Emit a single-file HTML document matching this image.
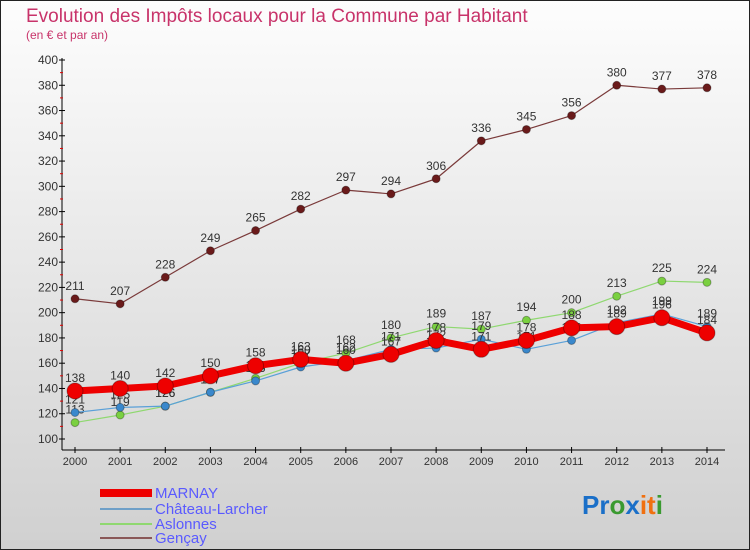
<!DOCTYPE html>
<html><head><meta charset="utf-8"><style>
body{margin:0}
#c{width:750px;height:550px;position:relative;overflow:hidden;box-sizing:border-box;border:1px solid #222;background:linear-gradient(#fdfdfd,#d0d0d0);font-family:"Liberation Sans",sans-serif}
</style></head><body>
<div id="c">
<svg id="s" width="750" height="550" style="position:absolute;left:-1px;top:-1px" font-family="Liberation Sans, sans-serif">
<text x="26" y="22" font-size="19" fill="#c8336a">Evolution des Impôts locaux pour la Commune par Habitant</text>
<text x="26" y="39" font-size="12" fill="#c8336a">(en € et par an)</text>
<g id="ax"></g><g id="plot"></g>
<g>
<rect x="100" y="489" width="52" height="8" fill="#ee0000"/>
<line x1="100" y1="509" x2="152" y2="509" stroke="#6fa0c8" stroke-width="2"/>
<line x1="100" y1="524" x2="152" y2="524" stroke="#8fd870" stroke-width="2"/>
<line x1="100" y1="538" x2="152" y2="538" stroke="#8a5858" stroke-width="2"/>
<g font-size="15" fill="#5a5aff">
<text x="155" y="498">MARNAY</text>
<text x="155" y="514">Château-Larcher</text>
<text x="155" y="529">Aslonnes</text>
<text x="155" y="543">Gençay</text>
</g></g>
<g font-size="26" font-weight="bold">
<text x="582" y="514"><tspan fill="#1a6fc8">Pr</tspan><tspan fill="#3a9a30">o</tspan><tspan fill="#1a6fc8">x</tspan><tspan fill="#f07010">it</tspan><tspan fill="#3a9a30">i</tspan></text>
</g>
</svg>
</div>
<script>
const years=[2000,2001,2002,2003,2004,2005,2006,2007,2008,2009,2010,2011,2012,2013,2014];
const marnay=[138,140,142,150,158,163,160,167,178,171,178,188,189,196,184];
const chateau=[121,125,126,137,146,157,162,171,172,179,171,178,192,199,189];
const aslonnes=[113,119,126,137,148,160,168,180,189,187,194,200,213,225,224];
const gencay=[211,207,228,249,265,282,297,294,306,336,345,356,380,377,378];
const yTicks=[100,120,140,160,180,200,220,240,260,280,300,320,340,360,380,400];
const NS="http://www.w3.org/2000/svg";
const X=i=>75+i*(707-75)/14;
const Y=v=>439-(v-100)*(439-60)/300;
function mk(t,a,p){const e=document.createElementNS(NS,t);for(const k in a)e.setAttribute(k,a[k]);p.appendChild(e);return e;}
const ax=document.getElementById('ax'),plot=document.getElementById('plot');
mk('line',{x1:62,y1:58,x2:62,y2:450,stroke:'#000'},ax);
mk('line',{x1:62,y1:450,x2:725,y2:450,stroke:'#000'},ax);
yTicks.forEach(v=>{
 mk('line',{x1:59,y1:Y(v),x2:65,y2:Y(v),stroke:'#000'},ax);
 if(v<400) mk('line',{x1:60,y1:Y(v+10),x2:63,y2:Y(v+10),stroke:'#e00000'},ax);
 const t=mk('text',{x:58,y:Y(v)+4,'font-size':12,fill:'#333','text-anchor':'end'},ax);
 
 
 t.textContent=v;
});
years.forEach((yr,i)=>{
 mk('line',{x1:X(i),y1:447,x2:X(i),y2:453,stroke:'#000'},ax);
 const t=mk('text',{x:X(i),y:465,'font-size':11,fill:'#333','text-anchor':'middle'},ax);
 
 
 t.textContent=yr;
});
function series(data,name,color,w,r,fill){
 const g=mk('g',{},plot);
 
 
 mk('polyline',{points:data.map((v,i)=>X(i)+','+Y(v)).join(' '),fill:'none',stroke:color,'stroke-width':w,'stroke-linejoin':'round'},g);
 data.forEach((v,i)=>{
  const c=mk('circle',{cx:X(i),cy:Y(v),r:r,fill:fill,stroke:'rgba(0,0,0,0.3)','stroke-width':1},g);
  
  
  const t=mk('text',{x:X(i),y:Y(v)-9,'font-size':12,fill:'#333','text-anchor':'middle'},g);
  
  
  t.textContent=v;
 });
}
series(gencay,'gencay','#7a3a3a',1.2,4,'#6a1a1a');
series(aslonnes,'aslonnes','#8fd870',1.2,4,'#7ad040');
series(chateau,'chateau-larcher','#5aa0d8',1.2,4,'#3a88cc');
series(marnay,'marnay','#ee0000',7,8,'#ee0000');
</script>
</body></html>
